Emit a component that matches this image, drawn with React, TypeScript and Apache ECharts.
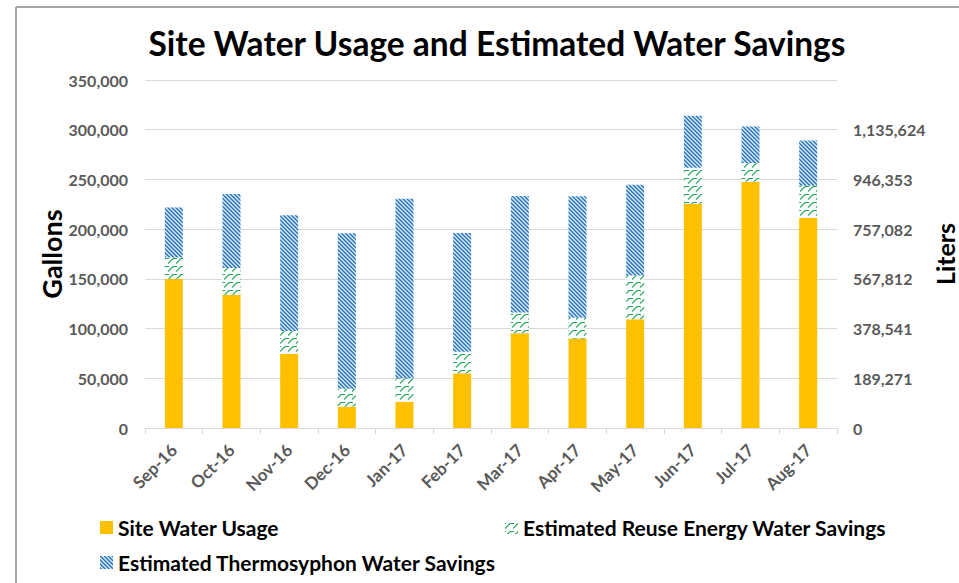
import React, { useEffect, useRef } from "react";
import * as echarts from "echarts";

const months = ["Sep-16", "Oct-16", "Nov-16", "Dec-16", "Jan-17", "Feb-17", "Mar-17", "Apr-17", "May-17", "Jun-17", "Jul-17", "Aug-17"];
const siteWaterUsage = [150000, 134000, 74500, 21500, 26500, 55000, 95300, 90000, 109400, 225500, 247700, 211400];
const reuseSavings = [21500, 27000, 23000, 18000, 23500, 21800, 20800, 21000, 44000, 36200, 18800, 32200];
const thermosyphonSavings = [50300, 74300, 116500, 156400, 180500, 119200, 117200, 122200, 91300, 52400, 36800, 45600];
const gallonTicks = [0, 50000, 100000, 150000, 200000, 250000, 300000, 350000];
const literTickLabels = ["0", "189,271", "378,541", "567,812", "757,082", "946,353", "1,135,624", ""];

const FONT = "Lato, 'Open Sans', sans-serif";

function makeBluePattern(): HTMLCanvasElement {
  const c = document.createElement("canvas");
  const n = 4;
  c.width = n;
  c.height = n;
  const ctx = c.getContext("2d")!;
  for (let y = 0; y < n; y++) {
    for (let x = 0; x < n; x++) {
      const m = (((x - y) % n) + n) % n;
      ctx.fillStyle = m === 0 ? "#2E75B6" : m === 1 ? "#5B9BD5" : m === 2 ? "#DEEBF7" : "#9DC3E6";
      ctx.fillRect(x, y, 1, 1);
    }
  }
  return c;
}

function makeGreenPattern(): HTMLCanvasElement {
  const c = document.createElement("canvas");
  c.width = 8;
  c.height = 8;
  const ctx = c.getContext("2d")!;
  ctx.fillStyle = "#FFFFFF";
  ctx.fillRect(0, 0, 8, 8);
  ctx.strokeStyle = "#21A65A";
  ctx.lineWidth = 1.1;
  ctx.beginPath();
  ctx.moveTo(0, 7.5);
  ctx.lineTo(5, 2.5);
  ctx.lineTo(8, 2.5);
  ctx.moveTo(0, 2.5);
  ctx.lineTo(1, 2.5);
  ctx.stroke();
  return c;
}

export default function App() {
  const ref = useRef<HTMLDivElement>(null);
  useEffect(() => {
    document.body.style.margin = "0";
    document.body.style.overflow = "hidden";
    document.documentElement.style.overflow = "hidden";
    const chart = echarts.init(ref.current!, null, { renderer: "svg", width: 959, height: 583 });
    const blue = { image: makeBluePattern(), repeat: "repeat" };
    const green = { image: makeGreenPattern(), repeat: "repeat" };
    const axisLabelStyle = { color: "#595959", fontFamily: FONT, fontSize: 16, fontWeight: "bold" as const };
    const legendText = { color: "#000000", fontFamily: FONT, fontSize: 21, fontWeight: "bold" as const };
    chart.setOption({
      animation: false,
      backgroundColor: "#FFFFFF",
      title: {
        text: "Site Water Usage and Estimated Water Savings",
        left: 492,
        textAlign: "center",
        top: 21,
        textStyle: { fontFamily: FONT, fontSize: 33.5, fontWeight: "bold", color: "#000000" },
      },
      graphic: [
        {
          type: "line",
          shape: { x1: 16, y1: 7, x2: 959, y2: 7 },
          style: { stroke: "#A6A6A6", lineWidth: 2 },
          silent: true,
        },
        {
          type: "line",
          shape: { x1: 16, y1: 7, x2: 16, y2: 583 },
          style: { stroke: "#A6A6A6", lineWidth: 2 },
          silent: true,
        },
      ],
      legend: [
        {
          data: ["Site Water Usage"],
          left: 95,
          top: 512,
          icon: "rect",
          itemWidth: 13,
          itemHeight: 13,
          itemGap: 5,
          textStyle: legendText,
        },
        {
          data: ["Estimated Reuse Energy Water Savings"],
          left: 500,
          top: 512,
          icon: "rect",
          itemWidth: 13,
          itemHeight: 13,
          textStyle: legendText,
        },
        {
          data: ["Estimated Thermosyphon Water Savings"],
          left: 95,
          top: 547,
          icon: "rect",
          itemWidth: 13,
          itemHeight: 13,
          textStyle: legendText,
        },
      ],
      grid: { left: 145, right: 122, top: 80, bottom: 155, containLabel: false, outerBoundsMode: "none" },
      xAxis: {
        type: "category",
        data: months,
        axisLine: { lineStyle: { color: "#D9D9D9", width: 1 } },
        axisTick: { show: true, length: 6, lineStyle: { color: "#D9D9D9" } },
        axisLabel: { ...axisLabelStyle, fontSize: 17, rotate: 45, margin: 19 },
      },
      yAxis: [
        {
          type: "value",
          min: 0,
          max: 350000,
          interval: 50000,
          name: "Gallons",
          nameLocation: "middle",
          nameRotate: 90,
          nameGap: 80,
          nameMoveOverlap: false,
          nameTextStyle: { fontFamily: FONT, fontSize: 27, fontWeight: "bold", color: "#000000" },
          axisLine: { show: false },
          axisTick: { show: false },
          splitLine: { lineStyle: { color: "#D9D9D9", width: 1 } },
          axisLabel: {
            ...axisLabelStyle,
            margin: 17,
            formatter: (v: number) => (gallonTicks.indexOf(v) >= 0 ? v.toLocaleString("en-US") : ""),
          },
        },
        {
          type: "value",
          min: 0,
          max: 350000,
          interval: 50000,
          position: "right",
          name: "Liters",
          nameLocation: "middle",
          nameRotate: 90,
          nameGap: 96,
          nameMoveOverlap: false,
          nameTextStyle: { fontFamily: FONT, fontSize: 25, lineHeight: 24, fontWeight: "bold", color: "#000000" },
          axisLine: { show: false },
          axisTick: { show: false },
          splitLine: { show: false },
          axisLabel: {
            ...axisLabelStyle,
            margin: 16,
            formatter: (v: number) => {
              const i = gallonTicks.indexOf(v);
              return i >= 0 ? literTickLabels[i] : "";
            },
          },
        },
      ],
      series: [
        {
          name: "Site Water Usage",
          type: "bar",
          stack: "total",
          barWidth: 18,
          data: siteWaterUsage,
          itemStyle: { color: "#FFC000" },
        },
        {
          name: "Estimated Reuse Energy Water Savings",
          type: "bar",
          stack: "total",
          barWidth: 18,
          data: reuseSavings,
          itemStyle: { color: green },
        },
        {
          name: "Estimated Thermosyphon Water Savings",
          type: "bar",
          stack: "total",
          barWidth: 18,
          data: thermosyphonSavings,
          itemStyle: { color: blue },
        },
      ],
    });
    return () => chart.dispose();
  }, []);
  return <div ref={ref} style={{ width: 959, height: 583, position: "fixed", left: 0, top: 0, overflow: "hidden" }} />;
}
